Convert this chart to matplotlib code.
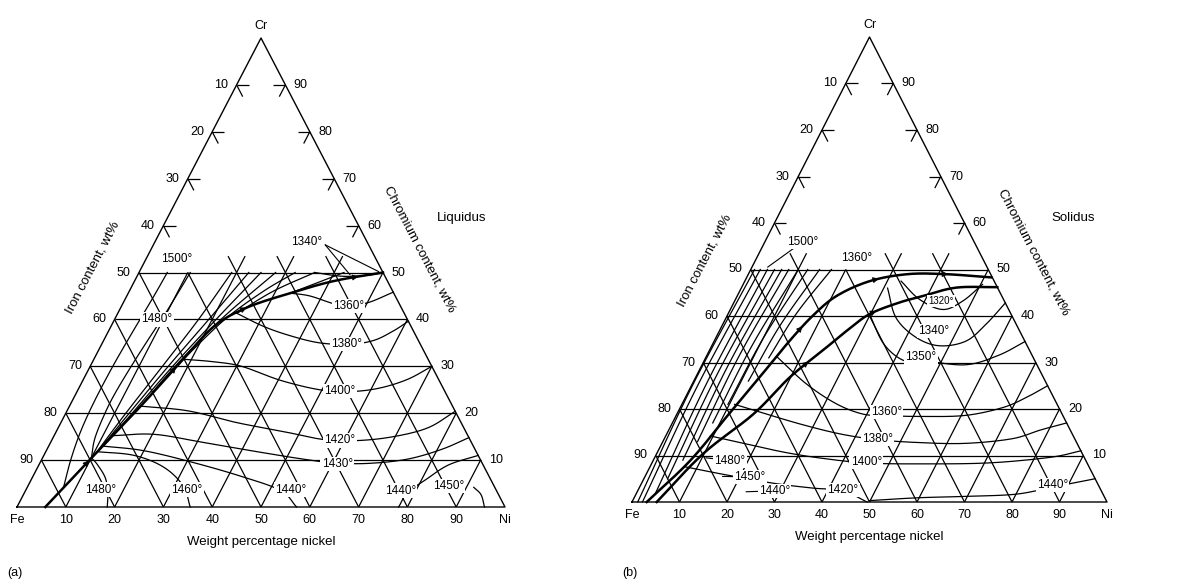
import numpy as np
import matplotlib
matplotlib.use("Agg")
import matplotlib.pyplot as plt

plt.rcParams['font.family'] = ['Liberation Sans', 'DejaVu Sans']

# compositions are (wt% Ni, wt% Cr); Fe is the balance

# ---------- (a) liquidus ----------
a_valley = [(5.8, 0), (9.8, 9.9), (14.6, 21.5), (18.3, 31.5), (21.1, 38.5),
            (25.8, 42.5), (33.2, 45.6), (40.9, 48.2), (50.0, 50.0)]
# isotherms on the nickel-rich side of the valley
a_1360 = [(33.2, 45.6), (37.5, 45.0), (43.4, 43.3), (46.5, 43.0), (50.2, 43.6), (54.2, 45.8)]
a_1380 = [(24.4, 41.3), (31.3, 38.5), (37.8, 36.5), (44.5, 35.0), (50.7, 34.7),
          (55.3, 35.5), (58.3, 37.5), (60.4, 39.6)]
a_1400 = [(18.3, 31.5), (24.5, 31.0), (31.0, 30.0), (40.5, 27.0), (49.5, 25.0),
          (55.7, 24.6), (61.4, 25.3), (66.4, 27.2), (70.0, 30.0)]
a_1420 = [(14.6, 21.5), (24.8, 20.5), (36.0, 18.0), (47.0, 16.0), (54.8, 14.5),
          (61.0, 14.1), (68.6, 14.8), (75.6, 16.8), (79.6, 20.4)]
a_1430 = [(11.9, 15.2), (20.3, 15.5), (31.1, 13.8), (42.0, 12.0), (52.9, 10.3),
          (60.3, 9.4), (67.4, 9.3), (74.9, 10.2), (80.9, 12.3), (85.2, 14.8)]
a_1440 = [(11.0, 13.0), (20.0, 12.0), (31.3, 9.5), (42.8, 6.5), (52.3, 3.5), (57.3, 0)]
a_1440r = [(78.2, 0), (78.5, 3.0), (81.0, 6.0), (84.0, 9.0), (89.0, 11.0)]
a_1450 = [(91.5, 4.2), (93.8, 2.6), (95.8, 0)]
a_1460 = [(10.5, 11.8), (18.5, 11.0), (25.8, 8.5), (31.8, 4.5), (35.5, 0)]
a_1480 = [(10.0, 10.5), (12.0, 9.0), (15.0, 6.2), (17.1, 3.0), (18.5, 0)]
# isotherms on the iron-rich side of the valley
a_d1500 = [(7.5, 4), (6.0, 10), (5.0, 16), (4.6, 22), (4.6, 29), (4.9, 35.5),
           (5.3, 41), (5.6, 45.5), (5.8, 50)]
a_d1480 = [(10.0, 10.5), (8.6, 14.8), (8.0, 20.5), (8.0, 24.8), (8.5, 31),
           (9.2, 37), (9.8, 41.5), (10.2, 46), (10.5, 50)]
a_d1460 = [(10.5, 11.8), (12.3, 20), (14.8, 30), (17.2, 40), (19.0, 50)]
a_d1440 = [(11.0, 13.0), (13.0, 20), (16.0, 30), (19.3, 40), (22.5, 50)]
a_d1430 = [(11.9, 15.2), (13.6, 20), (16.9, 30), (20.8, 40), (25.0, 50)]
a_d1420 = [(14.6, 21.5), (17.4, 30), (21.8, 40), (28.0, 50)]
a_d1400 = [(18.3, 31.5), (22.6, 40), (27.5, 46), (32.0, 50)]
a_d1380 = [(24.4, 41.3), (29.5, 46), (36.0, 50)]
a_d1360 = [(33.2, 45.6), (38.0, 48), (42.0, 50)]
a_1340 = [(36.0, 50.0), (42.0, 49.2), (47.0, 49.4), (50.0, 50.0)]

a_labels = [("1500°", 6.4, 52.8), ("1480°", 8.7, 40.0), ("1360°", 46.5, 42.9),
            ("1380°", 50.2, 34.8), ("1400°", 53.8, 24.8), ("1420°", 59.1, 14.2),
            ("1430°", 61.0, 9.2), ("1480°", 15.2, 3.7), ("1460°", 33.0, 3.7),
            ("1440°", 54.2, 3.7), ("1440°", 76.8, 3.5), ("1450°", 86.2, 4.5)]
a_lead_1340 = ("1340°", 31.2, 56.4, [(49.0, 50.2), (43.5, 49.5)])

# ---------- (b) solidus ----------
b_upper = [(3.1, 0), (7.8, 8.9), (10.8, 18.5), (13.5, 27), (15.8, 34.5), (18.0, 40),
           (20.9, 44.3), (26.3, 47.5), (33.5, 49), (41.5, 49), (51.5, 48.3)]
b_lower = [(5.2, 0), (9.8, 10.4), (16.1, 18.9), (19.8, 26.8), (23.8, 32.5), (27.0, 37.1),
           (29.8, 40.4), (34.6, 42.8), (39.1, 44.3), (45.2, 46.1), (53.8, 46.2)]
# iron-rich side: start on the upper boundary, end on the 50% Cr line
b_delta_start = [(1.2, 0), (2.2, 0), (4.0, 2), (5.0, 5), (6.2, 9), (7.3, 13),
                 (8.5, 17), (9.7, 21), (11.5, 26), (13.3, 31)]
b_delta_end = [0.8, 2.0, 3.5, 5.0, 6.5, 8.0, 10.0, 12.0, 14.5, 17.0]   # wt% Ni at 50% Cr
b_1320 = [(32.9, 47.5), (38.7, 43.6), (44.7, 41.4), (48.0, 43.2), (50.4, 46.8)]
b_1340 = [(30.8, 46.0), (35.8, 39.6), (42.1, 35.4), (47.9, 33.6), (53.0, 34.6),
          (55.4, 38.2), (57.2, 42.8)]
b_1350 = [(29.8, 40.4), (36.0, 34.0), (41.8, 30.5), (45.5, 30.5), (55.3, 29.5),
          (61.3, 31.5), (65.5, 34.5)]
b_1360 = [(14.8, 31.3), (24.0, 25.4), (32.5, 21.1), (39.2, 18.9), (44.2, 18.6),
          (50.8, 18.4), (60.7, 18.6), (67.9, 20.3), (71.8, 22.5), (75.0, 25.0)]
b_1380 = [(11.1, 21.0), (18.5, 19.0), (27.7, 16.6), (36.7, 14.6), (45.0, 13.4),
          (53.6, 12.8), (63.7, 12.6), (73.2, 13.6), (78.3, 15.5), (83.0, 17.0)]
b_1400 = [(9.4, 14.2), (17.8, 12.5), (26.7, 10.7), (35.3, 9.4), (45.1, 8.4),
          (55.9, 8.2), (70.8, 8.4), (83.2, 9.6), (89.0, 11.0)]
b_1420 = [(7.2, 7.6), (17.1, 5.8), (28.0, 4.0), (36.5, 3.0), (43.2, 2.4), (49.5, 0)]
b_1440 = [(49.9, 0.3), (59.6, 0.9), (69.4, 1.2), (79.2, 1.6), (84.7, 2.6), (89.2, 3.7), (95.0, 5.0)]

b_labels = [("1360°", 21.0, 52.5), ("1340°", 45.2, 36.8), ("1350°", 45.3, 31.1),
            ("1360°", 43.9, 19.3), ("1380°", 44.9, 13.6), ("1400°", 45.0, 8.6),
            ("1420°", 43.1, 2.6), ("1440°", 86.7, 3.6)]
b_leaders = [("1500°", 8.0, 56.0, 3.3, 50.5), ("1480°", 16.2, 8.9, 10.8, 9.5),
             ("1450°", 22.1, 5.4, 16.3, 5.5), ("1440°", 28.8, 2.4, 22.9, 2.2)]

ticks = [10, 20, 30, 40, 50, 60, 70, 80, 90]


def tern(ni, cr):
    return ni + cr / 2.0, cr


def smooth(pts, n=16):
    p = np.array([tern(a, b) for a, b in pts], float)
    if len(p) < 3:
        return p
    p = np.vstack([2 * p[0] - p[1], p, 2 * p[-1] - p[-2]])
    t = np.linspace(0, 1, n, endpoint=False)[:, None]
    out = []
    for i in range(1, len(p) - 2):
        p0, p1, p2, p3 = p[i - 1], p[i], p[i + 1], p[i + 2]
        out.append(0.5 * (2 * p1 + (-p0 + p2) * t + (2 * p0 - 5 * p1 + 4 * p2 - p3) * t ** 2
                          + (-p0 + 3 * p1 - 3 * p2 + p3) * t ** 3))
    out.append(p[-2][None])
    return np.vstack(out)


def seg(ax, n1, c1, n2, c2, lw=0.9):
    x1, y1 = tern(n1, c1)
    x2, y2 = tern(n2, c2)
    ax.plot([x1, x2], [y1, y2], color='k', lw=lw, solid_capstyle='butt', clip_on=False)


def frame(ax, ext):
    ax.plot([0, 100, 50, 0], [0, 0, 100, 0], color='k', lw=1.0, clip_on=False)
    for c in [10, 20, 30, 40, 50]:
        seg(ax, 0, c, 100 - c, c)
    for n in ticks:
        seg(ax, n, 0, n, min(50, 100 - n))          # constant Ni
        seg(ax, 100 - n, 0, max(0, 50 - n), min(50, 100 - n))  # constant Fe
    for n in ext:
        seg(ax, n, 50, n, 53.5)
        seg(ax, n, 50, n - 3.5, 53.5)
    for c in [60, 70, 80, 90]:
        seg(ax, 0, c, 2.5, c)
        seg(ax, 0, c, 2.5, c - 2.5)
        seg(ax, 100 - c, c, 97.5 - c, c)
        seg(ax, 100 - c, c, 100 - c, c - 2.5)
    kw = dict(textcoords='offset points', fontsize=9)
    for f in ticks:
        ax.annotate(str(f), xy=tern(0, 100 - f), xytext=(-6, 0), ha='right', va='center', **kw)
        ax.annotate(str(f), xy=tern(100 - f, f), xytext=(6, 0), ha='left', va='center', **kw)
        ax.annotate(str(f), xy=(f, 0), xytext=(0, -5), ha='center', va='top', **kw)
    ax.annotate("Fe", xy=(0, 0), xytext=(0, -5), ha='center', va='top', **kw)
    ax.annotate("Ni", xy=(100, 0), xytext=(0, -5), ha='center', va='top', **kw)
    ax.annotate("Cr", xy=(50, 100), xytext=(0, 4), ha='center', va='bottom', **kw)
    ax.text(50, -7.5, "Weight percentage nickel", ha='center', va='center', fontsize=9.5)


def curve(ax, pts, lw=0.9):
    xy = smooth(pts)
    ax.plot(xy[:, 0], xy[:, 1], color='k', lw=lw, clip_on=False, zorder=3)
    return xy


def arrows(ax, xy, fracs):
    for f in fracs:
        i = int(f * (len(xy) - 1))
        ax.annotate('', xy=xy[i + 1], xytext=xy[i - 1],
                    arrowprops=dict(arrowstyle='-|>', color='k', lw=0.6,
                                    mutation_scale=9, shrinkA=0, shrinkB=0), zorder=5)


def label(ax, txt, ni, cr, size=8.5):
    ax.text(*tern(ni, cr), txt, ha='center', va='center', fontsize=size, zorder=6,
            bbox=dict(boxstyle='square,pad=0.1', fc='white', ec='none'))


fig = plt.figure(figsize=(11.8, 5.8), dpi=100)
W, H = 1180.0, 580.0


def panel(x0, x1, ytop, ybase):
    ax = fig.add_axes([x0 / W, (H - ybase) / H, (x1 - x0) / W, (ybase - ytop) / H])
    ax.set_xlim(0, 100)
    ax.set_ylim(0, 100)
    ax.axis('off')
    return ax


# ---------- panel (a) ----------
ax = panel(17, 505, 38, 507)
frame(ax, [20, 30, 40])
v = curve(ax, a_valley, lw=1.8)
arrows(ax, v, [0.12, 0.35, 0.62, 0.93])
for c in [a_1360, a_1380, a_1400, a_1420, a_1430, a_1440, a_1440r, a_1450, a_1460, a_1480,
          a_d1500, a_d1480, a_d1460, a_d1440, a_d1430, a_d1420, a_d1400, a_d1380,
          a_d1360, a_1340]:
    curve(ax, c)
for t, n, c in a_labels:
    label(ax, t, n, c)
t, n, c, targets = a_lead_1340
label(ax, t, n, c)
for tn, tc in targets:
    ax.annotate('', xy=tern(tn, tc), xytext=tern(n + 4.0, c - 0.5),
                arrowprops=dict(arrowstyle='-', lw=0.8, color='k', shrinkA=0, shrinkB=0))
ax.text(*tern(15.6 - 25.5, 51), "Iron content, wt%", rotation=62.4, ha='center', va='center', fontsize=9.5)
ax.text(82.4, 55, "Chromium content, wt%", rotation=-62.4, ha='center', va='center', fontsize=9.5)
ax.text(91.2, 61.6, "Liquidus", ha='center', va='center', fontsize=9.5)
ax.text(-0.4, -14, "(a)", ha='center', va='center', fontsize=9)

# ---------- panel (b) ----------
ax = panel(632, 1107, 37, 502)
frame(ax, [10, 30, 40])
up = curve(ax, b_upper, lw=1.8)
lo = curve(ax, b_lower, lw=1.8)
arrows(ax, up, [0.45, 0.72, 0.9])
arrows(ax, lo, [0.35, 0.62])
for (sn, sc), en in zip(b_delta_start, b_delta_end):
    curve(ax, [(sn, sc), (0.5 * (sn + en) - 0.8, 0.5 * (sc + 50)), (en, 50)])
for c in [b_1320, b_1340, b_1350, b_1360, b_1380, b_1400, b_1420, b_1440]:
    curve(ax, c)
for t, n, c in b_labels:
    label(ax, t, n, c)
label(ax, "1320°", 43.4, 43.3, size=7)
for t, n, c, tn, tc in b_leaders:
    ax.annotate(t, xy=tern(tn, tc), xytext=tern(n, c), fontsize=8.5, ha='center', va='center',
                zorder=6, bbox=dict(boxstyle='square,pad=0.1', fc='white', ec='none'),
                arrowprops=dict(arrowstyle='-', lw=0.8, color='k', shrinkA=0, shrinkB=0))
ax.text(*tern(15.4 - 26, 52), "Iron content, wt%", rotation=62.4, ha='center', va='center', fontsize=9.5)
ax.text(84.6, 53.8, "Chromium content, wt%", rotation=-62.4, ha='center', va='center', fontsize=9.5)
ax.text(92.8, 61.1, "Solidus", ha='center', va='center', fontsize=9.5)
ax.text(-0.4, -15.3, "(b)", ha='center', va='center', fontsize=9)

fig.savefig("out.png", dpi=100, facecolor='white')
